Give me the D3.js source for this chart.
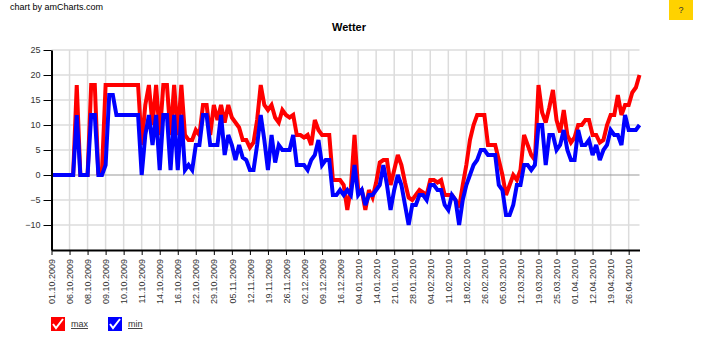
<!DOCTYPE html>
<html>
<head>
<meta charset="utf-8">
<script src="https://cdn.jsdelivr.net/npm/d3@7"></script>
<style>
  body { margin: 0; background: #fff; }
  text { font-family: "Liberation Sans", Arial, sans-serif; }
</style>
</head>
<body>
<svg id="chart" width="720" height="340"></svg>
<script>
const tickLabels = ["01.10.2009","06.10.2009","08.10.2009","09.10.2009","10.10.2009","11.10.2009","14.10.2009","16.10.2009","22.10.2009","29.10.2009","05.11.2009","12.11.2009","19.11.2009","26.11.2009","02.12.2009","09.12.2009","16.12.2009","04.01.2010","14.01.2010","21.01.2010","28.01.2010","04.02.2010","11.02.2010","18.02.2010","26.02.2010","05.03.2010","12.03.2010","19.03.2010","25.03.2010","01.04.2010","12.04.2010","19.04.2010","26.04.2010"];
const tickEvery = 5;

const maxValues = [
  0,0,0,0,0,0,0,18,0,0,
  0,18,18,0,1,18,18,18,18,18,
  18,18,18,18,18,6,14,18,10,18,
  8,18,18,8,18,8,18,8,7,7,
  9,8,14,14,8,14,11,14,10.5,14,
  11.5,10.5,9.5,7,7,5.5,6.5,11,18,14,
  13,14,11.5,10.5,13,12,11.5,12,8,8,
  7.5,8,6,11,9,8,8,8,-1,-1,
  -1,-2,-7,-2.5,8,-3,-3,-7,-3,-4.5,
  -1.5,2.5,3,3,-2,1,4,2,-1.5,-4.5,
  -5,-4,-3,-3.5,-4,-1,-1,-1.5,-1,-4,
  -4,-4,-5,-6.5,-2,2,7,10,12,12,
  12,6,6,6,3,0,-4,-2,0,-1,
  1,8,6,4,3,18,12.5,10.5,13.5,17,
  11,8.5,13,8,6.5,7.5,10,10,11,11,
  8,8,6.5,7,10,12,12,16,12,14,
  14,16.5,17.5,20
];
const minValues = [
  0,0,0,0,0,0,0,12,0,0,
  0,12,12,0,0,2,16,16,12,12,
  12,12,12,12,12,0,8,12,6,12,
  1,12,12,1,12,1,12,1,2,1,
  6,6,12,12,6,6,6,12,4,8,
  6,3,6,3.5,3,1,1,6,12,7,
  1,8,2.5,6,5,5,5,8,2,2,
  2,1,3,4,7,2,3,3,-4,-4,
  -3,-4,-3,-4,2,-4,-3,-6,-4,-4,
  -3,-2,2,-2,-7,-3,0,-2,-6,-10,
  -6,-6,-4,-4,-5,-2,-2,-3,-3,-6,
  -7,-4,-5,-10,-5,-2,0,2,3,5,
  5,4,4,4,-2,-3,-8,-8,-6,-2,
  -2,2,2,1,2,10,10,2,8,8,
  5,6,9,5,3,3,9,6,6,7,
  4,6,3,5,6,9,8,8,6,12,
  9,9,9,10
];
const yTicks = [-10,-5,0,5,10,15,20,25];
const yDomain = [-15, 25];

const series = [
  {name: "max", values: maxValues, color: "#ff0000"},
  {name: "min", values: minValues, color: "#0000ff"}
];

const svg = d3.select("#chart");
const n = maxValues.length;
const idx = d3.range(n);
const x = d3.scalePoint().domain(idx).range([51.5, 639.5]);
const y = d3.scaleLinear().domain(yDomain).range([250, 50]);
const tickIdx = idx.filter(i => i % tickEvery === 0);

// credit
svg.append("text").attr("x", 10).attr("y", 10).attr("font-size", 9).attr("fill", "#000").text("chart by amCharts.com");

// help box
svg.append("rect").attr("x", 669).attr("y", 0).attr("width", 24).attr("height", 20).attr("fill", "#ffd200");
svg.append("text").attr("x", 681).attr("y", 13).attr("text-anchor", "middle").attr("font-size", 9).attr("fill", "#333").text("?");

// title
svg.append("text").attr("x", 349).attr("y", 31).attr("text-anchor", "middle")
  .attr("font-size", 11).attr("font-weight", "bold").attr("fill", "#000").text("Wetter");

// grid
const grid = svg.append("g");
grid.selectAll("line.h").data(yTicks.filter(v => v !== 0)).enter().append("line")
  .attr("x1", x(0)).attr("x2", x(n - 1))
  .attr("y1", d => y(d)).attr("y2", d => y(d))
  .attr("stroke", "#dcdcdc").attr("stroke-width", 1.5);
grid.selectAll("line.v").data(tickIdx.slice(1)).enter().append("line")
  .attr("x1", d => x(d)).attr("x2", d => x(d))
  .attr("y1", y(yDomain[0])).attr("y2", y(yDomain[1]))
  .attr("stroke", "#dcdcdc").attr("stroke-width", 1.5);
grid.append("line").attr("x1", x(0)).attr("x2", x(n - 1))
  .attr("y1", y(0)).attr("y2", y(0)).attr("stroke", "#999").attr("stroke-width", 1);

// lines
const line = d3.line().x((d, i) => x(i)).y(d => y(d));
series.forEach(s => {
  svg.append("path").datum(s.values).attr("d", line)
    .attr("fill", "none").attr("stroke", s.color).attr("stroke-width", 4)
    .attr("stroke-linejoin", "miter").attr("stroke-miterlimit", 3);
});

// axes
const xAxis = svg.append("g").attr("transform", `translate(0,${y(yDomain[0])})`)
  .call(d3.axisBottom(x).tickValues(tickIdx).tickFormat(i => tickLabels[i / tickEvery]).tickSize(5).tickSizeOuter(0));
xAxis.select(".domain").attr("stroke", "#000").attr("stroke-width", 2);
xAxis.selectAll(".tick line").attr("stroke", "#000");
xAxis.selectAll(".tick text")
  .attr("x", -9).attr("y", 0).attr("dy", "0.35em")
  .attr("transform", "rotate(-90)").style("text-anchor", "end")
  .attr("font-size", 9).attr("font-family", "Liberation Sans, Arial, sans-serif").attr("fill", "#333");

const yAxis = svg.append("g").attr("transform", `translate(${x(0)},0)`)
  .call(d3.axisLeft(y).tickValues(yTicks).tickSize(8).tickPadding(3).tickSizeOuter(0));
yAxis.select(".domain").attr("stroke", "#000").attr("stroke-width", 2);
yAxis.selectAll(".tick line").attr("stroke", "#000");
yAxis.selectAll(".tick text").attr("font-size", 9)
  .attr("font-family", "Liberation Sans, Arial, sans-serif").attr("fill", "#333");

// legend
const legend = svg.append("g");
series.forEach((s, k) => {
  const g = legend.append("g").attr("transform", `translate(${51 + k * 57},317)`);
  g.append("rect").attr("width", 14).attr("height", 14).attr("fill", s.color);
  g.append("path").attr("d", "M2,7 L5,11 L12,2").attr("fill", "none")
    .attr("stroke", "#fff").attr("stroke-width", 2);
  g.append("text").attr("x", 20).attr("y", 10).attr("font-size", 9)
    .attr("fill", "#333").attr("text-decoration", "underline").text(s.name);
});
</script>
</body>
</html>
